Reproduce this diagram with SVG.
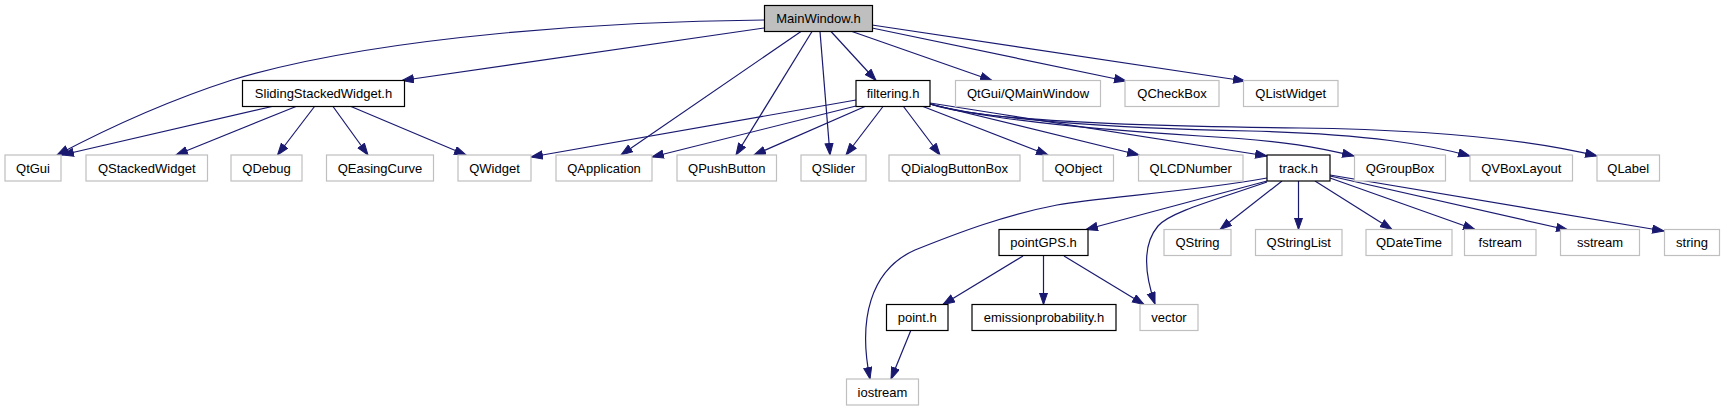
<svg xmlns="http://www.w3.org/2000/svg" width="1725" height="411" viewBox="0 0 1725 411">
<style>
.n rect{fill:#fff;stroke:#000;stroke-width:1.2}
.x rect{fill:#fff;stroke:#bfbfbf;stroke-width:1.2}
.r rect{fill:#bfbfbf;stroke:#000;stroke-width:1.2}
text{font-family:"Liberation Sans",Arial,sans-serif;font-size:13px;text-anchor:middle;fill:#000}
#edges path{fill:none;stroke:#191970;stroke-width:1.2;marker-end:url(#arr)}
</style>
<defs>
<marker id="arr" markerUnits="userSpaceOnUse" markerWidth="13" markerHeight="10" refX="12" refY="4.5" orient="auto" viewBox="0 0 13 10">
<path d="M0.5,0.5 L12,4.5 L0.5,8.5 Z" fill="#191970" stroke="#191970" stroke-width="1"/>
</marker>
</defs>
<rect width="1725" height="411" fill="#fff"/>
<g id="edges">
<path d="M764,20 C620,21 380,35 232,80 C170,100 110,127 57,155"/>
<path d="M764,28 L402,80.5"/>
<path d="M801,31.5 L621,155"/>
<path d="M812,31.5 L736,155"/>
<path d="M820,31.5 L830,155"/>
<path d="M831,31.5 L876,80.5"/>
<path d="M852,31.5 L992,80.5"/>
<path d="M872,28 L1126,81"/>
<path d="M872,25 L1245,81"/>
<path d="M272,106.5 L62,155"/>
<path d="M296,106.5 L176,155"/>
<path d="M314.5,106.5 L277.5,155"/>
<path d="M333,106.5 L368,155"/>
<path d="M351,106.5 L466,155"/>
<path d="M856,100 L531,157"/>
<path d="M856,106 L652,157"/>
<path d="M865,106.5 L754,155"/>
<path d="M883,106.5 L846,155"/>
<path d="M903.5,106.5 L940,155"/>
<path d="M923,106.5 L1048,155"/>
<path d="M930,104 L1139,155"/>
<path d="M930,103 C1050,122 1180,142 1267,156"/>
<path d="M930,104 C990,120 1100,130 1200,136 C1290,141 1320,148 1354,156"/>
<path d="M930,104 C980,118 1100,128 1250,131 C1370,134 1430,145 1470,156"/>
<path d="M930,104 C970,118 1100,126 1300,128 C1450,130 1540,142 1597,156"/>
<path d="M1282,181 L1220,229.5"/>
<path d="M1298.5,181 L1298.5,229.5"/>
<path d="M1315,181 L1392,229.5"/>
<path d="M1330,178 L1475,229.5"/>
<path d="M1330,176 L1568,230"/>
<path d="M1330,175 L1664,231"/>
<path d="M1267,181 L1086,229.5"/>
<path d="M1267,182 C1215,200 1170,212 1158,226 C1142,245 1145,275 1155,304"/>
<path d="M1267,178 C1190,192 1100,197 1057,205 C1005,215 960,232 915,250 C870,270 858,320 870,379"/>
<path d="M1023,256 L943,304.5"/>
<path d="M1043.5,256 L1043.5,304.5"/>
<path d="M1064,256 L1144,304.5"/>
<path d="M911,330 L891,379"/>
</g>
<g id="MainWindow" class="r"><rect x="764.5" y="5.5" width="108" height="26"/><text x="818.5" y="23">MainWindow.h</text></g>
<g id="SlidingStackedWidget" class="n"><rect x="242.5" y="80.5" width="162" height="26"/><text x="323.5" y="98">SlidingStackedWidget.h</text></g>
<g id="filtering" class="n"><rect x="856" y="80.5" width="74" height="26"/><text x="893" y="98">filtering.h</text></g>
<g id="QMainWindow" class="x"><rect x="955.5" y="80.5" width="145" height="26"/><text x="1028" y="98">QtGui/QMainWindow</text></g>
<g id="QCheckBox" class="x"><rect x="1125" y="80.5" width="94" height="26"/><text x="1172" y="98">QCheckBox</text></g>
<g id="QListWidget" class="x"><rect x="1243.5" y="80.5" width="94.5" height="26"/><text x="1290.75" y="98">QListWidget</text></g>
<g id="QtGui" class="x"><rect x="5" y="155" width="56" height="26"/><text x="33" y="172.5">QtGui</text></g>
<g id="QStackedWidget" class="x"><rect x="86" y="155" width="121.5" height="26"/><text x="146.75" y="172.5">QStackedWidget</text></g>
<g id="QDebug" class="x"><rect x="231" y="155" width="71" height="26"/><text x="266.5" y="172.5">QDebug</text></g>
<g id="QEasingCurve" class="x"><rect x="326.5" y="155" width="107" height="26"/><text x="380" y="172.5">QEasingCurve</text></g>
<g id="QWidget" class="x"><rect x="458" y="155" width="73" height="26"/><text x="494.5" y="172.5">QWidget</text></g>
<g id="QApplication" class="x"><rect x="556" y="155" width="96" height="26"/><text x="604" y="172.5">QApplication</text></g>
<g id="QPushButton" class="x"><rect x="677" y="155" width="99.5" height="26"/><text x="726.75" y="172.5">QPushButton</text></g>
<g id="QSlider" class="x"><rect x="801" y="155" width="65" height="26"/><text x="833.5" y="172.5">QSlider</text></g>
<g id="QDialogButtonBox" class="x"><rect x="889" y="155" width="131" height="26"/><text x="954.5" y="172.5">QDialogButtonBox</text></g>
<g id="QObject" class="x"><rect x="1043" y="155" width="70.5" height="26"/><text x="1078.25" y="172.5">QObject</text></g>
<g id="QLCDNumber" class="x"><rect x="1138.5" y="155" width="104.5" height="26"/><text x="1190.75" y="172.5">QLCDNumber</text></g>
<g id="track" class="n"><rect x="1267" y="155" width="63" height="26"/><text x="1298.5" y="172.5">track.h</text></g>
<g id="QGroupBox" class="x"><rect x="1354.5" y="155" width="91" height="26"/><text x="1400" y="172.5">QGroupBox</text></g>
<g id="QVBoxLayout" class="x"><rect x="1470" y="155" width="102.5" height="26"/><text x="1521.25" y="172.5">QVBoxLayout</text></g>
<g id="QLabel" class="x"><rect x="1597" y="155" width="62.5" height="26"/><text x="1628.25" y="172.5">QLabel</text></g>
<g id="pointGPS" class="n"><rect x="999" y="229.5" width="89" height="26"/><text x="1043.5" y="247">pointGPS.h</text></g>
<g id="QString" class="x"><rect x="1164" y="229.5" width="67" height="26"/><text x="1197.5" y="247">QString</text></g>
<g id="QStringList" class="x"><rect x="1255.5" y="229.5" width="86.5" height="26"/><text x="1298.75" y="247">QStringList</text></g>
<g id="QDateTime" class="x"><rect x="1366" y="229.5" width="86" height="26"/><text x="1409" y="247">QDateTime</text></g>
<g id="fstream" class="x"><rect x="1464.5" y="229.5" width="71.5" height="26"/><text x="1500.25" y="247">fstream</text></g>
<g id="sstream" class="x"><rect x="1560.5" y="229.5" width="79" height="26"/><text x="1600" y="247">sstream</text></g>
<g id="string" class="x"><rect x="1664.5" y="229.5" width="55" height="26"/><text x="1692" y="247">string</text></g>
<g id="point" class="n"><rect x="886.5" y="304.5" width="61.5" height="26"/><text x="917.25" y="322">point.h</text></g>
<g id="emissionprobability" class="n"><rect x="972" y="304.5" width="144" height="26"/><text x="1044" y="322">emissionprobability.h</text></g>
<g id="vector" class="x"><rect x="1140" y="304.5" width="58" height="26"/><text x="1169" y="322">vector</text></g>
<g id="iostream" class="x"><rect x="846.5" y="379" width="72" height="26"/><text x="882.5" y="396.5">iostream</text></g>
</svg>
